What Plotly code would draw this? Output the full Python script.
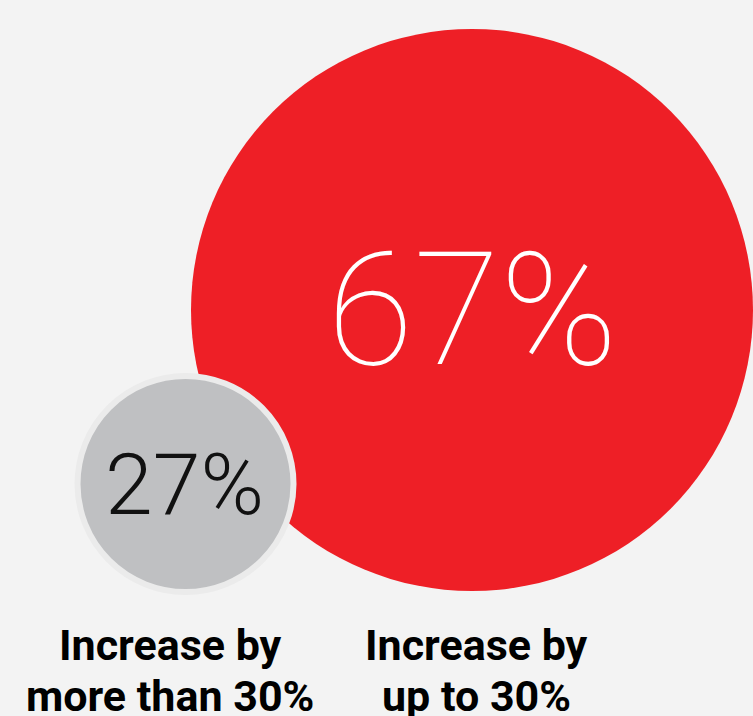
import plotly.graph_objects as go

categories = ["Increase by<br>up to 30%", "Increase by<br>more than 30%"]
values = [67, 27]
value_labels = ["67%", "27%"]

# layout (pixel space)
W, H = 753, 716
centers = [(472, 310), (185.5, 484)]
diam = [562, 216]
fills = ["#ee1f26", "#bfc0c2"]
lines = [0, 6]
text_colors = ["#ffffff", "#111111"]
text_sizes = [158, 86]
text_weights = [100, 300]
label_x = [476, 170]
label_line_y = [645, 696]

fig = go.Figure()
for i in range(len(values)):
    fig.add_trace(go.Scatter(
        x=[centers[i][0]], y=[centers[i][1]], mode="markers",
        marker=dict(size=diam[i], color=fills[i],
                    line=dict(width=lines[i], color="#ebebeb")),
        hoverinfo="skip", showlegend=False))
    fig.add_annotation(x=centers[i][0] - (1.5 if i == 1 else 0), y=centers[i][1], text=value_labels[i],
                       showarrow=False, xanchor="center", yanchor="middle",
                       font=dict(family="Roboto", size=text_sizes[i],
                                 color=text_colors[i], weight=text_weights[i]))
    for j, part in enumerate(categories[i].split("<br>")):
        fig.add_annotation(x=label_x[i], y=label_line_y[j], text=part,
                           showarrow=False, xanchor="center", yanchor="middle",
                           font=dict(family="Roboto", size=43, color="#000000", weight=700))

fig.update_layout(
    width=W, height=H, margin=dict(l=0, r=0, t=0, b=0),
    paper_bgcolor="#f3f3f3", plot_bgcolor="#f3f3f3",
    xaxis=dict(range=[0, W], visible=False, fixedrange=True),
    yaxis=dict(range=[H, 0], visible=False, fixedrange=True),
)
fig.write_html("out.html", config={"displayModeBar": False})

with open("out.html", "r", encoding="utf-8") as fh:
    html = fh.read()
html = html.replace("<body>", '<body style="margin:0;padding:0;overflow:hidden;background:#f3f3f3;">', 1)
with open("out.html", "w", encoding="utf-8") as fh:
    fh.write(html)
